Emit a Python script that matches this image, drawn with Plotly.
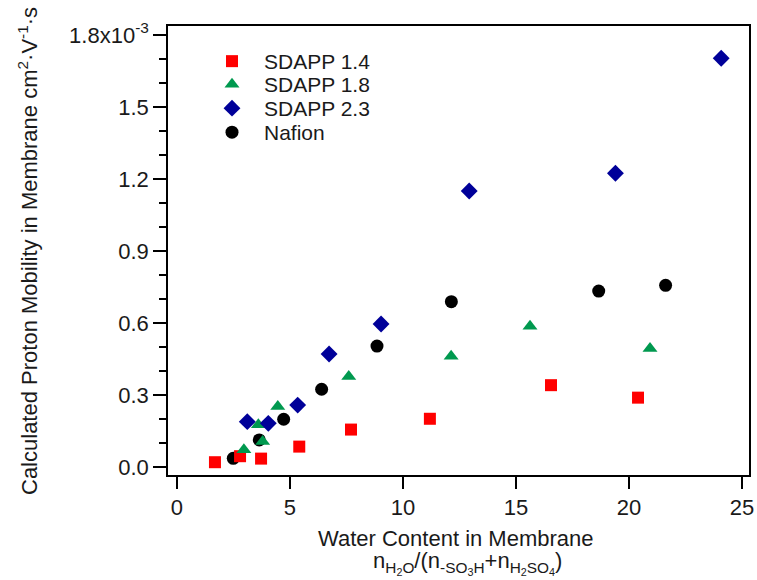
import plotly.graph_objects as go

# Water content (x) and proton mobility (y, in 1e-3 cm^2 V^-1 s^-1)
x_sdapp14 = [1.68, 2.79, 3.72, 5.41, 7.70, 11.19, 16.55, 20.40]
y_sdapp14 = [0.020, 0.045, 0.035, 0.085, 0.156, 0.201, 0.341, 0.289]

x_sdapp18 = [2.96, 3.79, 3.60, 4.46, 7.60, 12.13, 15.62, 20.93]
y_sdapp18 = [0.072, 0.106, 0.176, 0.252, 0.377, 0.461, 0.586, 0.494]

x_sdapp23 = [3.11, 4.04, 5.34, 6.73, 9.03, 12.93, 19.40, 24.08]
y_sdapp23 = [0.189, 0.182, 0.258, 0.471, 0.596, 1.150, 1.224, 1.703]

x_nafion = [2.49, 3.64, 4.72, 6.40, 8.85, 12.14, 18.66, 21.62]
y_nafion = [0.036, 0.113, 0.199, 0.324, 0.504, 0.689, 0.733, 0.757]

y_tickvals = [0.0, 0.3, 0.6, 0.9, 1.2, 1.5, 1.8]
y_ticktext = ["0.0", "0.3", "0.6", "0.9", "1.2", "1.5", "1.8x10<sup>-3</sup>"]
x_tickvals = [0, 5, 10, 15, 20, 25]

FONT = "Liberation Sans, Arial, sans-serif"
TXT = "#1a1a1a"

W, H = 757, 580
PL, PR, PT, PB = 168, 749, 26, 475   # plot area in page pixels


def px_x(page_x):
    return (page_x - PL) / (PR - PL)


def px_y(page_y):
    return (PB - page_y) / (PB - PT)


fig = go.Figure()
fig.add_trace(go.Scatter(x=x_nafion, y=y_nafion, mode="markers", name="Nafion",
                         legend="legend4",
                         marker=dict(symbol="circle", size=13, color="#000000")))
fig.add_trace(go.Scatter(x=x_sdapp14, y=y_sdapp14, mode="markers", name="SDAPP 1.4",
                         legend="legend",
                         marker=dict(symbol="square", size=12, color="#FF0000")))
fig.add_trace(go.Scatter(x=x_sdapp18, y=y_sdapp18, mode="markers", name="SDAPP 1.8",
                         legend="legend2",
                         marker=dict(symbol="triangle-up", size=13, color="#00994F")))
fig.add_trace(go.Scatter(x=x_sdapp23, y=y_sdapp23, mode="markers", name="SDAPP 2.3",
                         legend="legend3",
                         marker=dict(symbol="diamond", size=13, color="#000099")))

axis_common = dict(showline=True, linecolor="black", linewidth=1.5, mirror=True,
                   showgrid=False, zeroline=False, ticks="outside", tickwidth=1.5,
                   tickcolor="black", automargin=False,
                   tickfont=dict(family=FONT, size=22, color=TXT))

fig.update_xaxes(range=[-0.398, 25.31], tickvals=x_tickvals, ticklen=12, **axis_common)
fig.update_yaxes(range=[-0.0333, 1.8375], tickvals=y_tickvals, ticktext=y_ticktext,
                 ticklen=13,
                 minor=dict(dtick=0.1, ticks="outside", ticklen=7, tickwidth=1.5,
                            tickcolor="black"),
                 **axis_common)

fig.add_annotation(
    text="Calculated Proton Mobility in Membrane cm<sup>2</sup>·V<sup>-1</sup>·s",
    xref="paper", yref="paper", x=px_x(28), y=px_y(251), textangle=-90,
    showarrow=False, xanchor="center", yanchor="middle",
    font=dict(family=FONT, size=22, color=TXT))
fig.add_annotation(
    text="Water Content in Membrane",
    xref="paper", yref="paper", x=px_x(456), y=px_y(538), showarrow=False,
    xanchor="center", yanchor="middle",
    font=dict(family=FONT, size=22, color=TXT))
fig.add_annotation(
    text="n<sub>H<sub>2</sub>O</sub>/(n<sub>-SO<sub>3</sub>H</sub>+n<sub>H<sub>2</sub>SO<sub>4</sub></sub>)",
    xref="paper", yref="paper", x=px_x(467), y=px_y(563), showarrow=False,
    xanchor="center", yanchor="middle",
    font=dict(family=FONT, size=22, color=TXT))

legend_rows = [60, 83, 107, 131]
legend_keys = ["legend", "legend2", "legend3", "legend4"]
legend_style = dict(xanchor="left", yanchor="top", bgcolor="rgba(0,0,0,0)",
                    font=dict(family=FONT, size=21, color=TXT), itemwidth=54)
legends = {k: dict(x=px_x(200), y=px_y(r - 19), **legend_style)
           for k, r in zip(legend_keys, legend_rows)}

fig.update_layout(
    width=W, height=H,
    margin=dict(l=PL, r=W - PR, t=PT, b=H - PB, autoexpand=False),
    paper_bgcolor="white", plot_bgcolor="white",
    showlegend=True,
    font=dict(family=FONT, color=TXT),
    **legends,
)

fig.write_html("out.html",
               config={"displayModeBar": False},
               post_script="document.body.style.margin='0';"
                           "document.body.style.overflow='hidden';")
